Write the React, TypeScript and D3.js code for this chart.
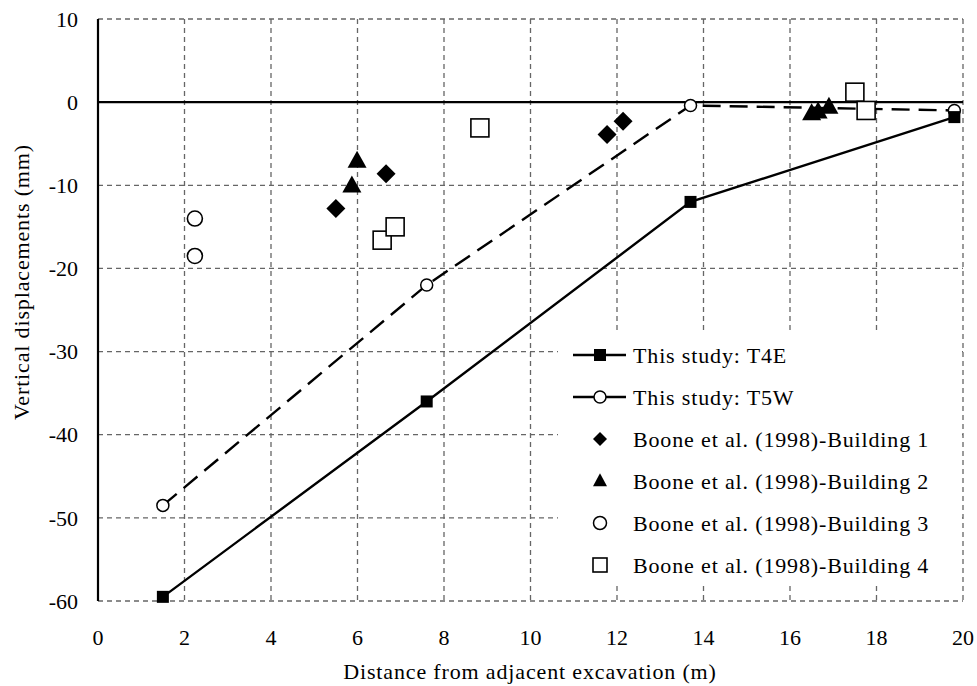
import React from 'react';
import * as d3 from 'd3';

const xTicks = [0, 2, 4, 6, 8, 10, 12, 14, 16, 18, 20];
const yTicks = [10, 0, -10, -20, -30, -40, -50, -60];

const t4eX = [1.5, 7.6, 13.7, 19.8];
const t4eY = [-59.5, -36, -12, -1.8];
const t5wX = [1.5, 7.6, 13.7, 19.8];
const t5wY = [-48.5, -22, -0.4, -1];

const b1X = [5.5, 6.66, 11.77, 12.14];
const b1Y = [-12.8, -8.6, -3.9, -2.3];
const b2X = [5.99, 5.87, 16.5, 16.65, 16.9];
const b2Y = [-7.2, -10.2, -1.5, -1.3, -0.7];
const b3X = [2.24, 2.24];
const b3Y = [-14, -18.5];
const b4X = [8.83, 6.57, 6.87, 17.5, 17.76];
const b4Y = [-3.1, -16.6, -15, 1.2, -1.0];

const legendLabels = [
  'This study: T4E',
  'This study: T5W',
  'Boone et al. (1998)-Building 1',
  'Boone et al. (1998)-Building 2',
  'Boone et al. (1998)-Building 3',
  'Boone et al. (1998)-Building 4',
];

const W = 977;
const H = 686;
const txt = { fontFamily: "'Liberation Serif', 'Times New Roman', serif" };
const label = { ...txt, letterSpacing: '0.85px' };

const Diamond = ({ x, y, r = 9.5 }: { x: number; y: number; r?: number }) => (
  <path d={`M${x},${y - r}L${x + r},${y}L${x},${y + r}L${x - r},${y}Z`} fill="#000" />
);
const Triangle = ({ x, y, w = 19, h = 17 }: { x: number; y: number; w?: number; h?: number }) => (
  <path d={`M${x},${y - (2 * h) / 3}L${x + w / 2},${y + h / 3}L${x - w / 2},${y + h / 3}Z`} fill="#000" />
);
const OpenSquare = ({ x, y, s = 18 }: { x: number; y: number; s?: number }) => (
  <rect x={x - s / 2} y={y - s / 2} width={s} height={s} fill="#fff" stroke="#000" strokeWidth={1.6} />
);

export default function App() {
  const x = d3.scaleLinear().domain([0, 20]).range([98, 963]);
  const y = d3.scaleLinear().domain([10, -60]).range([19, 601]);

  const line = d3.line<[number, number]>().x(d => x(d[0])).y(d => y(d[1]));
  const t4e = t4eX.map((v, i) => [v, t4eY[i]] as [number, number]);
  const t5w = t5wX.map((v, i) => [v, t5wY[i]] as [number, number]);

  const legX = 558;
  const legY = 330;
  const rowY = (i: number) => 355 + i * 42;

  return (
    <div style={{ position: 'absolute', left: 0, top: 0 }}>
      <svg width={W} height={H} style={{ display: 'block', background: '#fff' }}>
        {/* grid */}
        {xTicks.slice(1).map(t => (
          <line key={'gx' + t} x1={x(t)} x2={x(t)} y1={y(10)} y2={y(-60)}
            stroke="#666" strokeWidth={1.3} strokeDasharray="5,4" />
        ))}
        {yTicks.filter(t => t !== 0).map(t => (
          <line key={'gy' + t} x1={x(0)} x2={x(20)} y1={y(t)} y2={y(t)}
            stroke="#666" strokeWidth={1.3} strokeDasharray="5,4" />
        ))}
        {/* zero line and y axis */}
        <line x1={x(0)} x2={x(20)} y1={y(0)} y2={y(0)} stroke="#000" strokeWidth={2.2} />
        <line x1={x(0)} x2={x(0)} y1={y(10)} y2={y(-60)} stroke="#000" strokeWidth={2.2} />

        {/* tick labels */}
        {yTicks.map(t => (
          <text key={'ty' + t} style={txt} x={78} y={y(t)} dy="0.35em" textAnchor="end" fontSize={22}>{t}</text>
        ))}
        {xTicks.map(t => (
          <text key={'tx' + t} style={txt} x={x(t)} y={645} textAnchor="middle" fontSize={22}>{t}</text>
        ))}
        <text style={label} x={530} y={679} textAnchor="middle" fontSize={22}>Distance from adjacent excavation (m)</text>
        <text style={label} transform="translate(29,282) rotate(-90)" textAnchor="middle" fontSize={22}>Vertical displacements (mm)</text>

        {/* series lines */}
        <path d={line(t5w) || ''} fill="none" stroke="#000" strokeWidth={2.4} strokeDasharray="18,9" />
        <path d={line(t4e) || ''} fill="none" stroke="#000" strokeWidth={2.4} />

        {/* Boone markers */}
        {b3X.map((v, i) => (
          <circle key={'b3' + i} cx={x(v)} cy={y(b3Y[i])} r={7.5} fill="#fff" stroke="#000" strokeWidth={1.6} />
        ))}
        {b4X.map((v, i) => (
          <OpenSquare key={'b4' + i} x={x(v)} y={y(b4Y[i])} />
        ))}
        {b1X.map((v, i) => (
          <Diamond key={'b1' + i} x={x(v)} y={y(b1Y[i])} />
        ))}
        {b2X.map((v, i) => (
          <Triangle key={'b2' + i} x={x(v)} y={y(b2Y[i])} />
        ))}

        {/* study markers */}
        {t5w.map((d, i) => (
          <circle key={'t5' + i} cx={x(d[0])} cy={y(d[1])} r={6} fill="#fff" stroke="#000" strokeWidth={1.5} />
        ))}
        {t4e.map((d, i) => (
          <rect key={'t4' + i} x={x(d[0]) - 6} y={y(d[1]) - 6} width={12} height={12} fill="#000" />
        ))}

        {/* legend */}
        <rect x={legX} y={legY} width={402} height={256} fill="#fff" />
        <line x1={573} x2={626} y1={rowY(0)} y2={rowY(0)} stroke="#000" strokeWidth={2.4} />
        <rect x={594} y={rowY(0) - 6} width={12} height={12} fill="#000" />
        <line x1={573} x2={626} y1={rowY(1)} y2={rowY(1)} stroke="#000" strokeWidth={2.4} />
        <circle cx={600} cy={rowY(1)} r={6} fill="#fff" stroke="#000" strokeWidth={1.5} />
        <Diamond x={600} y={rowY(2)} r={7} />
        <Triangle x={600} y={rowY(3) + 1} w={14} h={13} />
        <circle cx={600} cy={rowY(4)} r={6.5} fill="#fff" stroke="#000" strokeWidth={1.5} />
        <OpenSquare x={600} y={rowY(5)} s={14} />
        {legendLabels.map((l, i) => (
          <text key={l} style={label} x={633} y={rowY(i)} dy="0.35em" fontSize={22}>{l}</text>
        ))}
      </svg>
    </div>
  );
}
